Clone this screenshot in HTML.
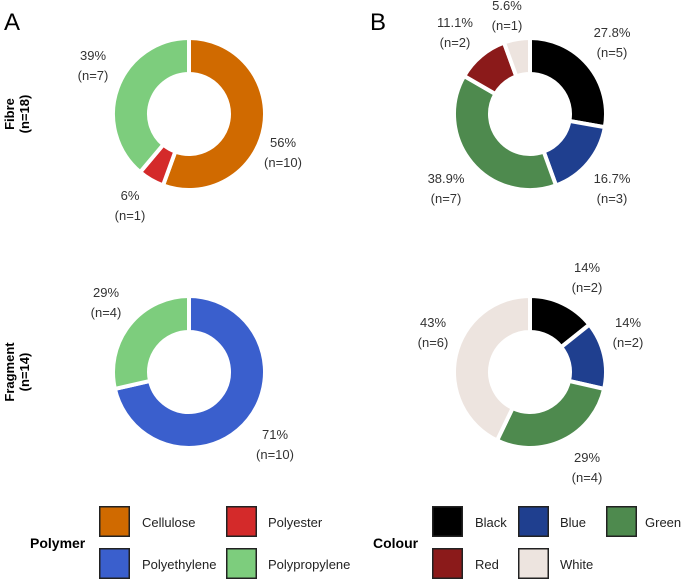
<!DOCTYPE html>
<html><head><meta charset="utf-8"><style>
body{margin:0;background:#fff;}
svg{display:block;font-family:"Liberation Sans",sans-serif;}
</style></head><body>
<svg id="chart" width="685" height="581" viewBox="0 0 685 581">
<text x="4" y="30" font-size="24">A</text>
<text x="370" y="30" font-size="24">B</text>
<text transform="translate(14,114) rotate(-90)" text-anchor="middle" font-size="13" font-weight="bold"><tspan x="0" dy="0">Fibre</tspan><tspan x="0" dy="15">(n=18)</tspan></text>
<text transform="translate(14,372) rotate(-90)" text-anchor="middle" font-size="13" font-weight="bold"><tspan x="0" dy="0">Fragment</tspan><tspan x="0" dy="15">(n=14)</tspan></text>
<g id="legend"></g>
</svg>
<script>
const polyCats=["Cellulose","Polyester","Polyethylene","Polypropylene"];
const polyColors=["#d06a00","#d42a2a","#3a5fcd","#7dcd7d"];
const fibrePolyN=[10,1,0,7];
const fragPolyN=[0,0,10,4];
const colourCats=["Black","Blue","Green","Red","White"];
const colourColors=["#000000","#1f3f8f","#4e8a4e","#8b1a1a","#ede4df"];
const fibreColN=[5,3,7,2,1];
const fragColN=[2,2,4,0,6];
const fibreColLabels=["27.8%","16.7%","38.9%","11.1%","5.6%"];
const fragColLabels=["14%","14%","29%","","43%"];
const fibrePolyLabels=["56%","6%","","39%"];
const fragPolyLabels=["","","71%","29%"];
// label placement (layout only): [x, baseline y] per category
const fibrePolyPos=[[283,147],[130,200],null,[93,60]];
const fragPolyPos=[null,null,[275,439],[106,297]];
const fibreColPos=[[612,37],[612,183],[446,183],[455,27],[507,10]];
const fragColPos=[[587,272],[628,327],[587,462],null,[433,327]];
const NS="http://www.w3.org/2000/svg";
const svg=document.getElementById("chart");
function mk(t,a){const e=document.createElementNS(NS,t);for(const k in a)e.setAttribute(k,a[k]);return e;}
function pt(cx,cy,r,a){return [cx+r*Math.sin(a),cy-r*Math.cos(a)];}
function donut(cx,cy,vals,cols,labels,pos,cats,name){
  const g=mk("g",{});
  
  
  svg.appendChild(g);
  const tot=vals.reduce((a,b)=>a+b,0);const R=76,r=40;let a0=0;
  vals.forEach((v,i)=>{
    if(!v)return;
    const a1=a0+v/tot*2*Math.PI;const large=(a1-a0)>Math.PI?1:0;
    const [x0,y0]=pt(cx,cy,R,a0),[x1,y1]=pt(cx,cy,R,a1),[x2,y2]=pt(cx,cy,r,a1),[x3,y3]=pt(cx,cy,r,a0);
    const p=mk("path",{d:`M${x0},${y0}A${R},${R} 0 ${large} 1 ${x1},${y1}L${x2},${y2}A${r},${r} 0 ${large} 0 ${x3},${y3}Z`,fill:cols[i],stroke:"#fff","stroke-width":4});
    
    
    g.appendChild(p);
    let lx,ly;
    if(pos[i]){lx=pos[i][0];ly=pos[i][1];}else{const m=(a0+a1)/2;[lx,ly]=pt(cx,cy,110,m);}
    const t=mk("text",{x:lx,y:ly,"text-anchor":"middle","font-size":13,fill:"#333"});
    
    
    t.innerHTML=`<tspan x="${lx}" dy="0">${labels[i]}</tspan><tspan x="${lx}" dy="20">(n=${v})</tspan>`;
    g.appendChild(t);
    a0=a1;
  });
}
donut(189,114,fibrePolyN,polyColors,fibrePolyLabels,fibrePolyPos,polyCats,"fibre-polymer-donut");
donut(189,372,fragPolyN,polyColors,fragPolyLabels,fragPolyPos,polyCats,"fragment-polymer-donut");
donut(530,114,fibreColN,colourColors,fibreColLabels,fibreColPos,colourCats,"fibre-colour-donut");
donut(530,372,fragColN,colourColors,fragColLabels,fragColPos,colourCats,"fragment-colour-donut");
const lg=document.getElementById("legend");
function title(x,y,s,n){const t=mk("text",{x:x,y:y,"font-size":14,"font-weight":"bold"});t.textContent=s;


lg.appendChild(t);}
title(30,548,"Polymer","polymer-legend-title");
title(373,548,"Colour","colour-legend-title");
function entry(x,y,tx,c,s){
  const r=mk("rect",{x:x+0.75,y:y+0.75,width:29.5,height:29.5,fill:c,stroke:"#222","stroke-width":1.5});
  
  
  lg.appendChild(r);
  const t=mk("text",{x:tx,y:y+21,"font-size":13,fill:"#222"});t.textContent=s;
  
  
  lg.appendChild(t);
}
entry(99,506,142,polyColors[0],"Cellulose");entry(226,506,268,polyColors[1],"Polyester");
entry(99,548,142,polyColors[2],"Polyethylene");entry(226,548,268,polyColors[3],"Polypropylene");
entry(432,506,475,colourColors[0],"Black");entry(518,506,560,colourColors[1],"Blue");entry(606,506,645,colourColors[2],"Green");
entry(432,548,475,colourColors[3],"Red");entry(518,548,560,colourColors[4],"White");
</script>
</body></html>
